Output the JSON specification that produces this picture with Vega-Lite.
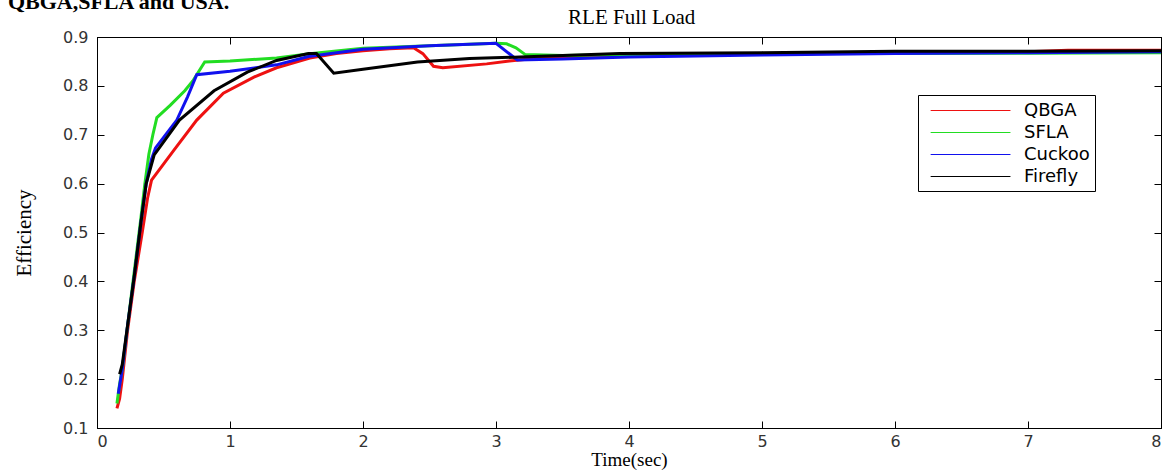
{
  "$schema": "https://vega.github.io/schema/vega-lite/v6.json",
  "width": 1064,
  "height": 391,
  "autosize": {"type": "none"},
  "padding": {"left": 97, "top": 37, "right": 9, "bottom": 43},
  "background": "white",
  "config": {
    "view": {"stroke": "#000", "strokeWidth": 1},
    "axis": {"grid": false, "domainColor": "#000", "tickColor": "#000", "labelFont": "DejaVu Sans", "labelFontSize": 16, "labelColor": "#333", "titleFont": "Liberation Serif", "titleFontSize": 21, "titleFontWeight": "normal", "titleColor": "#000"}
  },
  "data": {"values": [
    {"method": "QBGA", "t": 0.15, "v": 0.14},
    {"method": "QBGA", "t": 0.17, "v": 0.16},
    {"method": "QBGA", "t": 0.19, "v": 0.2},
    {"method": "QBGA", "t": 0.23, "v": 0.3},
    {"method": "QBGA", "t": 0.28, "v": 0.4},
    {"method": "QBGA", "t": 0.34, "v": 0.5},
    {"method": "QBGA", "t": 0.38, "v": 0.57},
    {"method": "QBGA", "t": 0.41, "v": 0.607},
    {"method": "QBGA", "t": 0.5, "v": 0.64},
    {"method": "QBGA", "t": 0.58, "v": 0.669},
    {"method": "QBGA", "t": 0.75, "v": 0.73},
    {"method": "QBGA", "t": 0.95, "v": 0.785},
    {"method": "QBGA", "t": 1.18, "v": 0.818},
    {"method": "QBGA", "t": 1.35, "v": 0.837},
    {"method": "QBGA", "t": 1.6, "v": 0.857},
    {"method": "QBGA", "t": 1.8, "v": 0.866},
    {"method": "QBGA", "t": 2.0, "v": 0.872},
    {"method": "QBGA", "t": 2.2, "v": 0.876},
    {"method": "QBGA", "t": 2.38, "v": 0.878},
    {"method": "QBGA", "t": 2.45, "v": 0.866},
    {"method": "QBGA", "t": 2.53, "v": 0.84},
    {"method": "QBGA", "t": 2.6, "v": 0.837},
    {"method": "QBGA", "t": 2.93, "v": 0.845},
    {"method": "QBGA", "t": 3.1, "v": 0.851},
    {"method": "QBGA", "t": 3.25, "v": 0.855},
    {"method": "QBGA", "t": 3.5, "v": 0.858},
    {"method": "QBGA", "t": 4.0, "v": 0.862},
    {"method": "QBGA", "t": 5.0, "v": 0.865},
    {"method": "QBGA", "t": 6.0, "v": 0.868},
    {"method": "QBGA", "t": 7.0, "v": 0.87},
    {"method": "QBGA", "t": 7.3, "v": 0.873},
    {"method": "QBGA", "t": 8.0, "v": 0.873},
    {"method": "SFLA", "t": 0.15, "v": 0.15},
    {"method": "SFLA", "t": 0.17, "v": 0.19},
    {"method": "SFLA", "t": 0.19, "v": 0.22},
    {"method": "SFLA", "t": 0.23, "v": 0.31},
    {"method": "SFLA", "t": 0.28, "v": 0.42},
    {"method": "SFLA", "t": 0.33, "v": 0.53},
    {"method": "SFLA", "t": 0.36, "v": 0.6},
    {"method": "SFLA", "t": 0.39, "v": 0.66},
    {"method": "SFLA", "t": 0.42, "v": 0.7},
    {"method": "SFLA", "t": 0.45, "v": 0.735},
    {"method": "SFLA", "t": 0.55, "v": 0.76},
    {"method": "SFLA", "t": 0.66, "v": 0.79},
    {"method": "SFLA", "t": 0.72, "v": 0.81},
    {"method": "SFLA", "t": 0.81, "v": 0.849},
    {"method": "SFLA", "t": 1.0, "v": 0.851},
    {"method": "SFLA", "t": 1.35, "v": 0.857},
    {"method": "SFLA", "t": 1.6, "v": 0.866},
    {"method": "SFLA", "t": 2.0, "v": 0.877},
    {"method": "SFLA", "t": 2.5, "v": 0.882},
    {"method": "SFLA", "t": 3.0, "v": 0.887},
    {"method": "SFLA", "t": 3.08, "v": 0.886},
    {"method": "SFLA", "t": 3.15, "v": 0.878},
    {"method": "SFLA", "t": 3.22, "v": 0.864},
    {"method": "SFLA", "t": 3.5, "v": 0.862},
    {"method": "SFLA", "t": 4.0, "v": 0.864},
    {"method": "SFLA", "t": 5.0, "v": 0.866},
    {"method": "SFLA", "t": 6.0, "v": 0.866},
    {"method": "SFLA", "t": 7.0, "v": 0.867},
    {"method": "SFLA", "t": 8.0, "v": 0.868},
    {"method": "Cuckoo", "t": 0.16, "v": 0.17},
    {"method": "Cuckoo", "t": 0.19, "v": 0.22},
    {"method": "Cuckoo", "t": 0.23, "v": 0.31},
    {"method": "Cuckoo", "t": 0.28, "v": 0.41},
    {"method": "Cuckoo", "t": 0.33, "v": 0.52},
    {"method": "Cuckoo", "t": 0.37, "v": 0.6},
    {"method": "Cuckoo", "t": 0.41, "v": 0.65},
    {"method": "Cuckoo", "t": 0.44, "v": 0.673},
    {"method": "Cuckoo", "t": 0.6, "v": 0.73},
    {"method": "Cuckoo", "t": 0.68, "v": 0.777},
    {"method": "Cuckoo", "t": 0.75, "v": 0.823},
    {"method": "Cuckoo", "t": 1.0, "v": 0.83},
    {"method": "Cuckoo", "t": 1.35, "v": 0.843},
    {"method": "Cuckoo", "t": 1.59, "v": 0.86},
    {"method": "Cuckoo", "t": 2.0, "v": 0.875},
    {"method": "Cuckoo", "t": 2.5, "v": 0.882},
    {"method": "Cuckoo", "t": 3.0, "v": 0.887},
    {"method": "Cuckoo", "t": 3.16, "v": 0.853},
    {"method": "Cuckoo", "t": 3.5, "v": 0.855},
    {"method": "Cuckoo", "t": 4.0, "v": 0.859},
    {"method": "Cuckoo", "t": 5.0, "v": 0.863},
    {"method": "Cuckoo", "t": 6.0, "v": 0.866},
    {"method": "Cuckoo", "t": 7.0, "v": 0.868},
    {"method": "Cuckoo", "t": 8.0, "v": 0.87},
    {"method": "Firefly", "t": 0.17, "v": 0.21},
    {"method": "Firefly", "t": 0.19, "v": 0.23},
    {"method": "Firefly", "t": 0.23, "v": 0.31},
    {"method": "Firefly", "t": 0.28, "v": 0.41},
    {"method": "Firefly", "t": 0.33, "v": 0.52},
    {"method": "Firefly", "t": 0.37, "v": 0.6},
    {"method": "Firefly", "t": 0.43, "v": 0.659},
    {"method": "Firefly", "t": 0.62, "v": 0.73},
    {"method": "Firefly", "t": 0.88, "v": 0.79},
    {"method": "Firefly", "t": 1.13, "v": 0.828},
    {"method": "Firefly", "t": 1.35, "v": 0.852},
    {"method": "Firefly", "t": 1.59, "v": 0.866},
    {"method": "Firefly", "t": 1.65, "v": 0.866},
    {"method": "Firefly", "t": 1.78, "v": 0.826},
    {"method": "Firefly", "t": 2.0, "v": 0.834},
    {"method": "Firefly", "t": 2.41, "v": 0.849},
    {"method": "Firefly", "t": 2.8, "v": 0.856},
    {"method": "Firefly", "t": 3.18, "v": 0.859},
    {"method": "Firefly", "t": 3.93, "v": 0.866},
    {"method": "Firefly", "t": 5.0, "v": 0.868},
    {"method": "Firefly", "t": 6.0, "v": 0.871},
    {"method": "Firefly", "t": 7.0, "v": 0.871},
    {"method": "Firefly", "t": 8.0, "v": 0.872}
  ]},
  "layer": [
    {
      "mark": {"type": "line", "strokeWidth": 3, "clip": true},
      "encoding": {
        "x": {"field": "t", "type": "quantitative", "scale": {"domain": [0, 8], "nice": false, "zero": false},
          "axis": {"orient": "bottom", "values": [0, 1, 2, 3, 4, 5, 6, 7, 8], "format": "d", "tickSize": -7, "labelPadding": 12, "title": "Time(sec)", "titleFontSize": 19, "titlePadding": 1}},
        "y": {"field": "v", "type": "quantitative", "scale": {"domain": [0.1, 0.9], "nice": false, "zero": false},
          "axis": {"orient": "left", "values": [0.1, 0.2, 0.3, 0.4, 0.5, 0.6, 0.7, 0.8, 0.9], "format": ".1f", "tickSize": -7, "labelPadding": 16, "title": "Efficiency", "titlePadding": 28}},
        "color": {"field": "method", "type": "nominal",
          "scale": {"domain": ["QBGA", "SFLA", "Cuckoo", "Firefly"], "range": ["#ee1111", "#22dd22", "#1111ee", "#000000"]},
          "legend": {"orient": "none", "legendX": 821, "legendY": 58, "title": null, "strokeColor": "#000", "fillColor": "#fff", "padding": 5, "symbolType": "M-0.3,0H8.1", "symbolSize": 361, "symbolStrokeWidth": 1.2, "labelFont": "DejaVu Sans", "labelFontSize": 18, "labelColor": "#000", "rowPadding": 2, "labelOffset": 80, "cornerRadius": 0}}
      }
    },
    {
      "mark": {"type": "point", "opacity": 0},
      "encoding": {
        "x": {"field": "t", "type": "quantitative", "axis": {"orient": "top", "values": [0, 1, 2, 3, 4, 5, 6, 7, 8], "labels": false, "tickSize": -7, "title": null}},
        "y": {"field": "v", "type": "quantitative", "axis": {"orient": "right", "values": [0.1, 0.2, 0.3, 0.4, 0.5, 0.6, 0.7, 0.8, 0.9], "labels": false, "tickSize": -7, "title": null}}
      }
    },
    {
      "data": {"values": [{"label": "RLE Full Load"}]},
      "mark": {"type": "text", "font": "Liberation Serif", "fontSize": 21, "align": "center", "baseline": "alphabetic", "color": "#000"},
      "encoding": {
        "text": {"field": "label"},
        "x": {"datum": 4.02, "type": "quantitative", "axis": null},
        "y": {"datum": 0.9266, "type": "quantitative", "axis": null}
      }
    },
    {
      "data": {"values": [{"label": "QBGA,SFLA and USA."}]},
      "mark": {"type": "text", "font": "Liberation Serif", "fontSize": 22, "fontWeight": "bold", "align": "left", "baseline": "alphabetic", "color": "#000"},
      "encoding": {
        "text": {"field": "label"},
        "x": {"datum": -0.67, "type": "quantitative", "axis": null},
        "y": {"datum": 0.957, "type": "quantitative", "axis": null}
      }
    }
  ],
  "resolve": {"axis": {"x": "independent", "y": "independent"}}
}
